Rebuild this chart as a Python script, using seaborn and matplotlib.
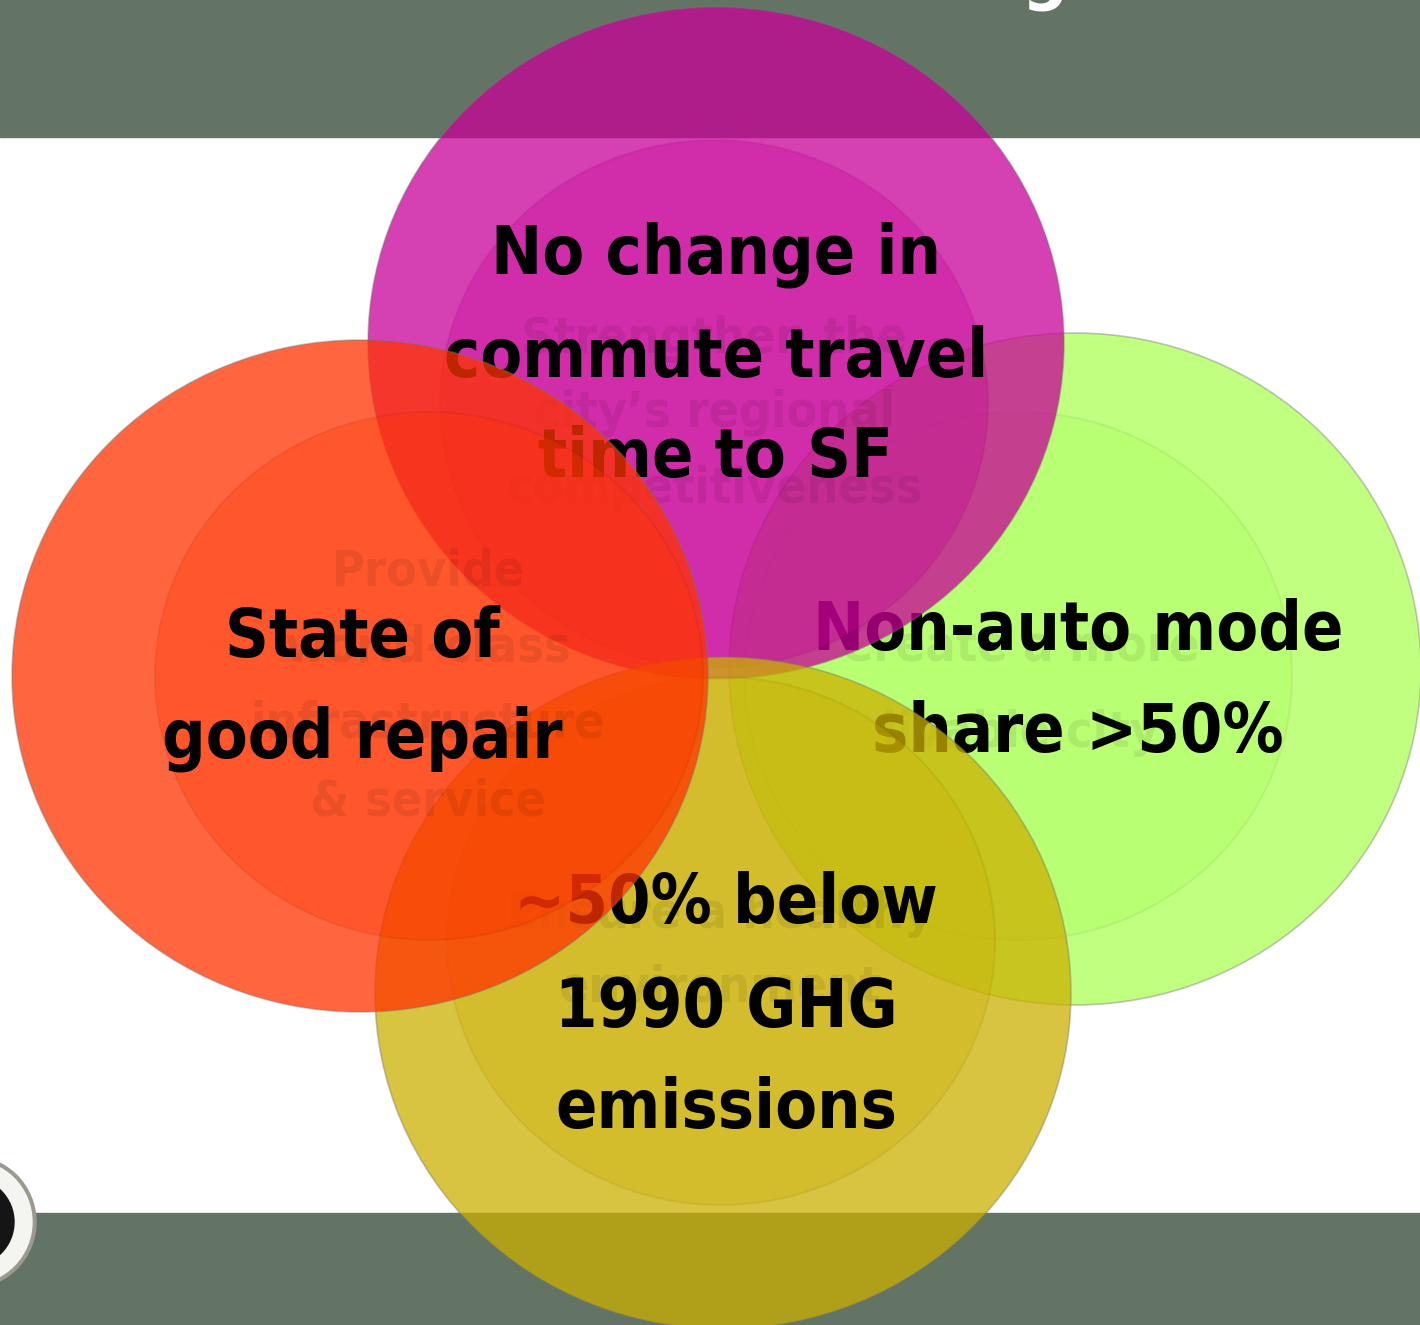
"""Four overlapping goal ellipses with targets (SmartArt-style Venn)."""

import matplotlib

matplotlib.use("Agg")
import matplotlib.pyplot as plt
import seaborn as sns
from matplotlib import font_manager
from matplotlib.colors import to_rgba
from matplotlib.patches import Circle, Ellipse, Rectangle

# Data: drawn in this order (later groups sit on top of earlier ones)
groups = ["livable", "regional", "environment", "infrastructure"]
goals = [
    ["Create a more", "livable city"],
    ["Strengthen the", "city\u2019s regional", "competitiveness"],
    ["Ensure a healthy", "environment"],
    ["Provide", "world-class", "infrastructure", "& service"],
]
targets = [
    ["Non-auto mode", "share >50%"],
    ["No change in", "commute travel", "time to SF"],
    ["~50% below", "1990 GHG", "emissions"],
    ["State of", "good repair"],
]
colours = ["#abff56", "#c80098", "#cbb000", "#ff3300"]

# Layout (pixel space of the 1420x1325 canvas)
W, H = 1420, 1325
outer = {  # centre x, centre y, radius x, radius y
    "livable": (1075, 669, 346, 336),
    "regional": (716, 343, 348, 336),
    "environment": (723, 993, 348, 336),
    "infrastructure": (360, 676, 348, 336),
}
inner = {
    "livable": (1018, 676, 274, 264),
    "regional": (714, 404, 274, 264),
    "environment": (721, 941, 274, 264),
    "infrastructure": (429, 676, 274, 264),
}
goal_x = {"livable": 1020, "regional": 714, "environment": 720, "infrastructure": 428}
goal_baselines = {
    "livable": [662, 747],
    "regional": [353, 427, 503],
    "environment": [928, 1002],
    "infrastructure": [585, 662, 737, 815],
}
target_x = {"livable": 1078, "regional": 716, "environment": 726, "infrastructure": 362}
target_baselines = {
    "livable": [650, 752],
    "regional": [273, 377, 477],
    "environment": [923, 1027, 1128],
    "infrastructure": [657, 758],
}
BAND = "#647464"


def narrow_bold_font():
    """Pick an installed narrow/condensed bold face, if there is one."""
    best = None
    for f in font_manager.fontManager.ttflist:
        narrow = ("Narrow" in f.name or "Condensed" in f.name
                  or f.stretch in ("condensed", "semi-condensed", "extra-condensed"))
        bold = f.weight in ("bold", 700, "demibold", 600)
        if narrow and bold:
            score = 2 if "Liberation" in f.name else 1
            if best is None or score > best[0]:
                best = (score, f.fname)
    return best[1] if best else None


sns.set_theme(style="white")
plt.rcParams["font.family"] = ["DejaVu Sans"]

fname = narrow_bold_font()
if fname:
    font = font_manager.FontProperties(fname=fname)
    scale = 1.0
else:
    font = font_manager.FontProperties(family="DejaVu Sans", weight="bold")
    scale = 0.85

fig = plt.figure(figsize=(W / 100, H / 100), dpi=100)
ax = fig.add_axes([0, 0, 1, 1])
ax.set_xlim(0, W)
ax.set_ylim(H, 0)
ax.set_axis_off()

# slide bands
ax.add_patch(Rectangle((0, 0), W, 137, color=BAND, zorder=1))
ax.add_patch(Rectangle((0, 1213), W, H - 1213, color=BAND, zorder=1))
# cut-off title descender
ax.text(1044, -4, "g", color="white", fontproperties=font, fontsize=52,
        ha="center", va="baseline", zorder=2)
# partly hidden seal in the corner
ax.add_patch(Circle((-30, 1222), 66, color="#9a9a90", zorder=2))
ax.add_patch(Circle((-30, 1222), 62, color="#f4f4f0", zorder=2))
ax.add_patch(Circle((-30, 1222), 44, color="#151515", zorder=2))

for i, (g, goal, target, col) in enumerate(zip(groups, goals, targets, colours)):
    z = 10 * (i + 1)
    cx, cy, rx, ry = outer[g]
    ax.add_patch(Ellipse((cx, cy), 2 * rx, 2 * ry, facecolor=to_rgba(col, 0.75),
                         edgecolor=(0.45, 0.45, 0.45, 0.4), lw=1.2, zorder=z))
    ix, iy, irx, iry = inner[g]
    ax.add_patch(Ellipse((ix, iy), 2 * irx, 2 * iry, facecolor=to_rgba(col, 0.3),
                         edgecolor=(0, 0, 0, 0.05), lw=1.5, zorder=z + 1))
    for line, base in zip(goal, goal_baselines[g]):
        ax.text(goal_x[g], base, line, fontproperties=font, fontsize=36 * scale,
                color=(0, 0, 0, 0.08), ha="center", va="baseline", zorder=z + 2)
    for line, base in zip(target, target_baselines[g]):
        ax.text(target_x[g], base, line, fontproperties=font, fontsize=49 * scale,
                color="black", ha="center", va="baseline", zorder=z + 3)

fig.savefig("out.png", dpi=100)
